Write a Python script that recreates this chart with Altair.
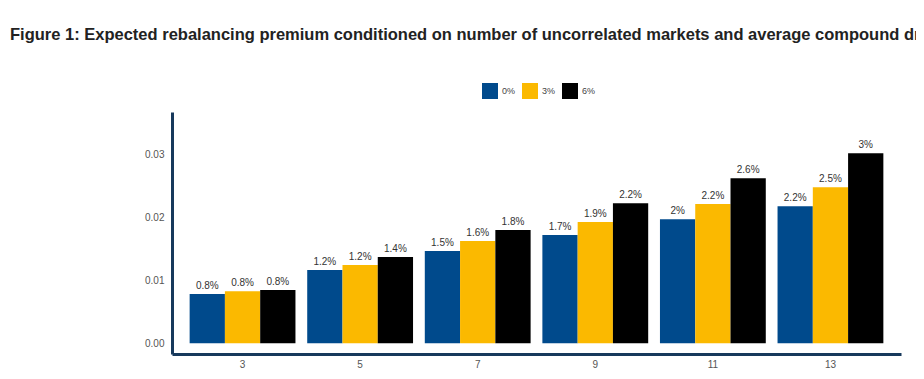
import altair as alt
import pandas as pd

groups = ["3", "5", "7", "9", "11", "13"]
series = ["0%", "3%", "6%"]
drift0 = [0.00785, 0.01167, 0.0147, 0.01725, 0.01975, 0.02182]
drift3 = [0.0083, 0.01247, 0.0163, 0.0193, 0.0222, 0.02484]
drift6 = [0.0085, 0.01374, 0.01804, 0.0223, 0.02627, 0.03025]
labels0 = ["0.8%", "1.2%", "1.5%", "1.7%", "2%", "2.2%"]
labels3 = ["0.8%", "1.2%", "1.6%", "1.9%", "2.2%", "2.5%"]
labels6 = ["0.8%", "1.4%", "1.8%", "2.2%", "2.6%", "3%"]
colors = ["#004a8c", "#fbb900", "#000000"]
title_text = ("Figure 1: Expected rebalancing premium conditioned on number of "
              "uncorrelated markets and average compound drift")

rows = []
for s, vals, labs in zip(series, [drift0, drift3, drift6], [labels0, labels3, labels6]):
    for g, v, l in zip(groups, vals, labs):
        rows.append({"markets": g, "drift": s, "premium": v, "label": l})
df = pd.DataFrame(rows)

font = "Liberation Sans"

x_enc = alt.X("markets:N", sort=groups, title=None,
              scale=alt.Scale(paddingInner=0.1, paddingOuter=0.15),
              axis=alt.Axis(labelAngle=0, labelColor="#555555", labelFontSize=10,
                            labelFont=font, ticks=False, labelPadding=5,
                            domainColor="#17395c", domainWidth=3))
y_enc = alt.Y("premium:Q", title=None,
              scale=alt.Scale(domain=[-0.0017, 0.03683], nice=False, zero=False),
              axis=alt.Axis(values=[0, 0.01, 0.02, 0.03], format=".2f",
                            labelColor="#555555", labelFontSize=10, labelFont=font,
                            ticks=False, labelPadding=8, grid=False,
                            domainColor="#17395c", domainWidth=3))
xo = alt.XOffset("drift:N", sort=series, scale=alt.Scale(paddingInner=0, paddingOuter=0))

base = alt.Chart(df)

bars = base.mark_bar().encode(
    x=x_enc,
    xOffset=xo,
    y=y_enc,
    y2=alt.datum(0),
    color=alt.Color("drift:N", sort=series,
                    scale=alt.Scale(domain=series, range=colors),
                    legend=alt.Legend(title=None, orient="none", legendX=310, legendY=-29,
                                      direction="horizontal", symbolType="square",
                                      symbolSize=256, symbolStrokeWidth=0,
                                      labelFontSize=9, labelFont=font,
                                      labelColor="#444444", labelOffset=4,
                                      columnPadding=6, padding=0)),
)

text = base.mark_text(baseline="bottom", dy=-3, fontSize=10, font=font,
                      color="#333333").encode(
    x=alt.X("markets:N", sort=groups),
    xOffset=xo,
    y=alt.Y("premium:Q"),
    text="label:N",
)

chart = alt.layer(bars, text).properties(
    width=729,
    height=242,
    padding={"left": 164, "top": 104, "right": 15, "bottom": 17},
    autosize=alt.AutoSizeParams(type="none"),
    title=alt.TitleParams(title_text, anchor="start", frame="group", dx=-162, dy=-36,
                          fontSize=16.5, font=font, fontWeight="bold",
                          color="#222222"),
).configure_view(stroke=None)

chart.save("out.html", embed_options={"renderer": "svg", "actions": False})
